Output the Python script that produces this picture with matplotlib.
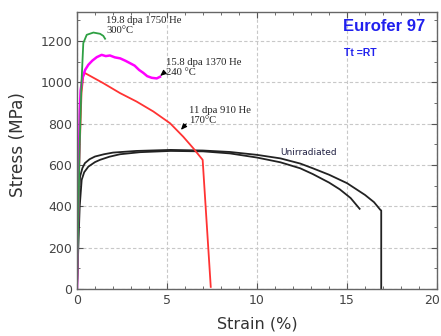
import matplotlib
matplotlib.use("Agg")
import matplotlib.pyplot as plt
import matplotlib.transforms as mtransforms
from matplotlib.ticker import MultipleLocator

# ---- data (strain %, stress MPa) ----
unirr_a_x = [0, 0.05, 0.1, 0.17, 0.3, 0.44, 0.7, 1.0, 1.5, 2.0, 3.3, 5.2, 7.0, 8.5, 10.0, 11.3, 12.4, 13.1, 14.0, 15.0, 16.0, 16.5, 16.85, 16.9, 16.9]
unirr_a_y = [0, 250, 430, 544, 585, 609, 628, 641, 652, 660, 668, 673, 670, 663, 649, 632, 607, 584, 553, 512, 455, 420, 383, 380, 0]
unirr_b_x = [0, 0.08, 0.15, 0.26, 0.4, 0.63, 1.0, 1.28, 1.8, 2.39, 3.5, 5.2, 7.0, 8.5, 10.0, 11.3, 12.4, 13.1, 14.0, 14.6, 15.2, 15.7]
unirr_b_y = [0, 220, 400, 528, 565, 592, 614, 625, 640, 652, 662, 668, 666, 656, 636, 613, 584, 556, 515, 482, 440, 388]

red_x = [0, 0.12, 0.25, 0.35, 0.44, 1.46, 2.39, 3.31, 4.24, 5.17, 5.9, 6.46, 6.83, 6.98, 7.43]
red_y = [0, 600, 950, 1030, 1045, 996, 948, 907, 859, 802, 737, 681, 641, 625, 10]

mag_x = [0, 0.05, 0.1, 0.15, 0.2, 0.3, 0.45, 0.63, 0.85, 1.1, 1.37, 1.6, 1.83, 2.1, 2.4, 2.7, 2.94, 3.2, 3.45, 3.68, 3.9, 4.15, 4.43, 4.61]
mag_y = [0, 300, 600, 850, 960, 1020, 1060, 1085, 1105, 1122, 1133, 1127, 1130, 1121, 1116, 1104, 1093, 1081, 1060, 1046, 1030, 1022, 1019, 1027]

green_x = [0, 0.15, 0.25, 0.35, 0.54, 0.91, 1.28, 1.46, 1.56]
green_y = [0, 700, 1000, 1190, 1230, 1241, 1235, 1225, 1211]

x_ticks = [0, 5, 10, 15, 20]
y_ticks = [0, 200, 400, 600, 800, 1000, 1200]

fig = plt.figure(figsize=(4.41, 3.36), dpi=100)
ax = fig.add_axes([0.1746, 0.140, 0.8164, 0.824])

ax.plot(unirr_a_x, unirr_a_y, color="#222222", lw=1.3)
ax.plot(unirr_b_x, unirr_b_y, color="#222222", lw=1.3)
ax.plot(red_x, red_y, color="#ff3333", lw=1.3)
ax.plot(mag_x, mag_y, color="#ff00ff", lw=1.8)
ax.plot(green_x, green_y, color="#2ea043", lw=1.3)

ax.set_xlim(0, 20)
ax.set_ylim(0, 1340)
ax.set_xticks(x_ticks)
ax.set_yticks(y_ticks)
ax.xaxis.set_minor_locator(MultipleLocator(1))
ax.yaxis.set_minor_locator(MultipleLocator(100))
ax.tick_params(which="both", direction="in", top=True, right=True, colors="#555555",
               labelcolor="#444444", labelsize=9)
ax.tick_params(which="major", length=4)
ax.tick_params(which="minor", length=2.5)
ax.grid(True, which="major", linestyle=(0, (3, 2)), color="#c8c8c8", lw=0.8)
for s in ax.spines.values():
    s.set_color("#666666")
    s.set_linewidth(1.0)

# keep the last x tick label ("20") inside the canvas
fig.canvas.draw()
lbls = ax.get_xticklabels()
shift = mtransforms.ScaledTranslation(-5 / 100, 0, fig.dpi_scale_trans)
lbls[-1].set_transform(lbls[-1].get_transform() + shift)

ax.set_xlabel("Strain (%)", fontsize=11.5, color="#333333", labelpad=7)
ax.set_ylabel("Stress (MPa)", fontsize=12.2, color="#333333")
ax.yaxis.set_label_coords(-0.139, 0.52)

serif = "Liberation Serif"
ax.text(1.61, 1274, "19.8 dpa 1750 He\n300°C", fontsize=7.7, family=serif, va="center",
        ha="left", linespacing=1.15, color="#222222")
ax.text(4.94, 1074, "15.8 dpa 1370 He\n240 °C", fontsize=7.7, family=serif, va="center",
        ha="left", linespacing=1.15, color="#222222")
ax.text(6.2, 839, "11 dpa 910 He\n170°C", fontsize=7.7, family=serif, va="center",
        ha="left", linespacing=1.15, color="#222222")
arrow = dict(arrowstyle="-|>,head_length=0.35,head_width=0.15", color="black", lw=0.8)
ax.annotate("", xy=(4.5, 1022), xytext=(4.89, 1051), arrowprops=arrow)
ax.annotate("", xy=(5.67, 760), xytext=(6.17, 809), arrowprops=arrow)

ax.text(11.3, 659, "Unirradiated", fontsize=6.5, color="#222244", va="center", ha="left")

ax.text(19.35, 1268, "Eurofer 97", fontsize=12, fontweight="bold", color="#2020ee",
        ha="right", va="center", family="Liberation Sans")
ax.text(14.85, 1140, "Tt =RT", fontsize=7.5, fontweight="bold", color="#2020ee",
        ha="left", va="center", family="Liberation Sans")

fig.savefig("out.png", dpi=100)
